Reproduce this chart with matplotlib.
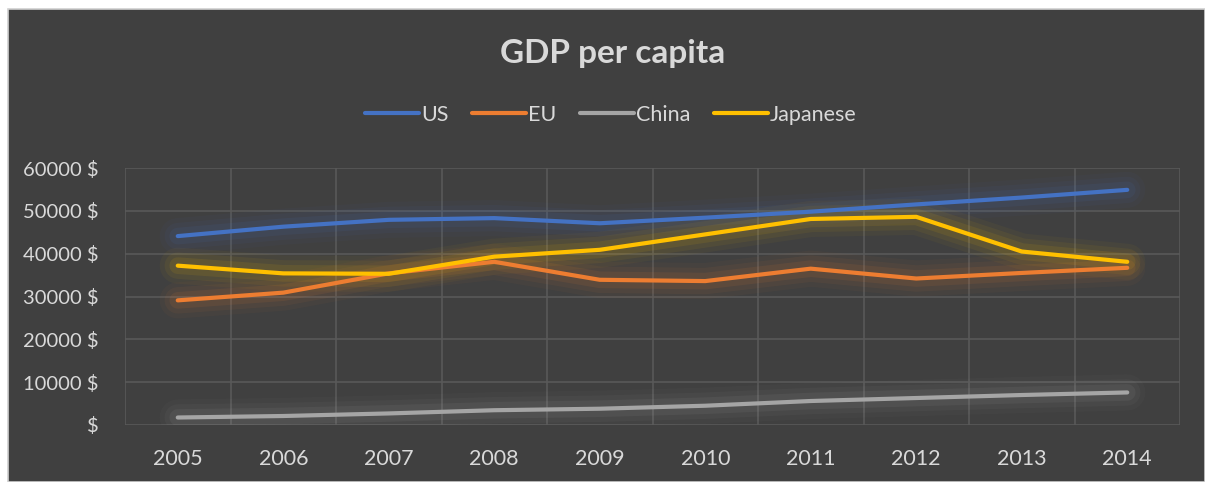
import matplotlib
matplotlib.use("Agg")
import matplotlib.pyplot as plt
from matplotlib.patches import Rectangle
import numpy as np

plt.rcParams['font.family'] = ['Lato', 'DejaVu Sans']

years = ['2005', '2006', '2007', '2008', '2009', '2010', '2011', '2012', '2013', '2014']
us = [44100, 46300, 47900, 48300, 47100, 48400, 49800, 51500, 53100, 54900]
eu = [29100, 30900, 35400, 38100, 33900, 33600, 36500, 34200, 35500, 36700]
china = [1750, 2100, 2700, 3450, 3800, 4500, 5600, 6300, 7000, 7600]
japanese = [37200, 35400, 35300, 39300, 40900, 44500, 48100, 48600, 40500, 38100]

series = [('US', us, '#4472C4'), ('EU', eu, '#ED7D31'),
          ('China', china, '#A5A5A5'), ('Japanese', japanese, '#FFC000')]

y_ticks = [0, 10000, 20000, 30000, 40000, 50000, 60000]
y_labels = ['$', '10000 $', '20000 $', '30000 $', '40000 $', '50000 $', '60000 $']

bg = '#404040'
txt = '#D9D9D9'
grid = '#595959'

fig = plt.figure(figsize=(12.05, 4.82), dpi=100)
fig.patch.set_facecolor('white')
# dark chart area with a thin light border
fig.patches.append(Rectangle((8 / 1205, 0), 1 - 8 / 1205, (482 - 9) / 482,
                             transform=fig.transFigure, facecolor=bg,
                             edgecolor='#D0D0D0', linewidth=1.2, zorder=-10))

ax = fig.add_axes([125 / 1205, 57 / 482, 1055 / 1205, 257 / 482])
ax.set_facecolor(bg)
ax.patch.set_alpha(0)

x = np.arange(len(years))
for name, vals, col in series:
    # soft glow under each line
    for w, a in [(26, 0.04), (19, 0.06), (12, 0.09)]:
        ax.plot(x, vals, color=col, lw=w, alpha=a, solid_capstyle='round',
                solid_joinstyle='round', zorder=2)
    ax.plot(x, vals, color=col, lw=3, solid_capstyle='round',
            solid_joinstyle='round', label=name, zorder=3)

ax.set_xlim(-0.5, len(years) - 0.5)
ax.set_ylim(0, 60000)
ax.set_xticks(x)
ax.set_xticklabels(years)
ax.set_xticks(np.arange(-0.5, len(years)), minor=True)
ax.set_yticks(y_ticks)
ax.set_yticklabels(y_labels)
ax.grid(True, which='major', axis='y', color=grid, lw=1.2, zorder=1)
ax.grid(True, which='minor', axis='x', color=grid, lw=1.2, zorder=1)
ax.tick_params(which='both', length=0, colors=txt)
ax.tick_params(axis='y', pad=19, labelsize=14.5)
ax.tick_params(axis='x', pad=17, labelsize=15.5)
for s in ax.spines.values():
    s.set_visible(False)

fig.text(0.508, 0.89, 'GDP per capita', ha='center', va='center',
         fontsize=24, fontweight='bold', color=txt)

leg = fig.legend(loc='center', bbox_to_anchor=(0.507, 0.762), ncol=4,
                 frameon=False, fontsize=15.5, handlelength=2.5,
                 handletextpad=0.1, columnspacing=1.1)
for t in leg.get_texts():
    t.set_color(txt)

fig.savefig('out.png', dpi=100, facecolor=fig.get_facecolor())
